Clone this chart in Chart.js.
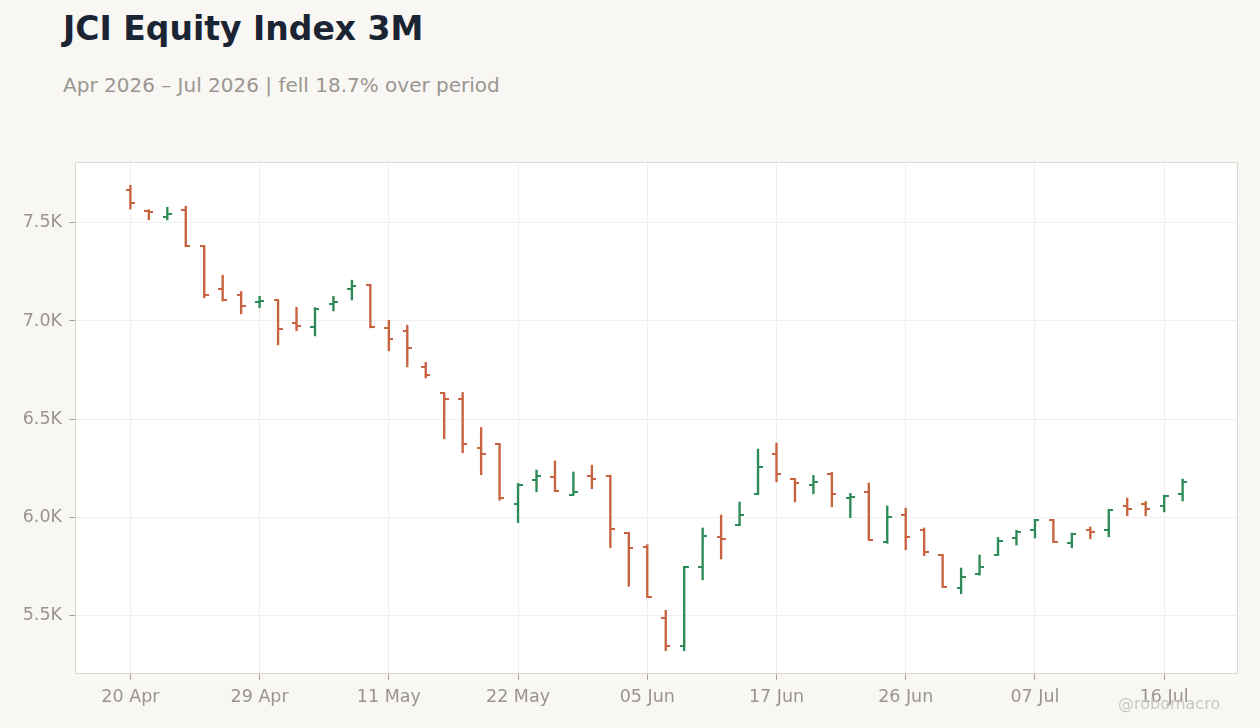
<!DOCTYPE html>
<html>
<head>
<meta charset="utf-8">
<script src="https://cdn.jsdelivr.net/npm/chart.js@4.4.1/dist/chart.umd.min.js"></script>
<style>
  html, body { margin: 0; padding: 0; background: #f8f7f4; }
  body { width: 1260px; height: 728px; position: relative; overflow: hidden; font-family: "DejaVu Sans", sans-serif; }
  #title { position: absolute; left: 63px; top: 12px; font-size: 33px; line-height: 33px; font-weight: bold; color: #1b2433; white-space: nowrap; }
  #subtitle { position: absolute; left: 63px; top: 75px; font-size: 20px; line-height: 20px; color: #9a9690; white-space: nowrap; }
  #mark { position: absolute; left: 1118px; top: 696px; font-size: 16px; line-height: 16px; color: #c9c7c3; white-space: nowrap; z-index: 2; }
  #chart { position: absolute; left: 0; top: 0; }
</style>
</head>
<body>
<div id="title">JCI Equity Index 3M</div>
<div id="subtitle">Apr 2026 – Jul 2026 | fell 18.7% over period</div>
<div id="mark">@robomacro</div>
<canvas id="chart" width="1260" height="728"></canvas>
<script>
const dates = [
  '20 Apr', '21 Apr', '22 Apr', '23 Apr', '24 Apr', '27 Apr', '28 Apr', '29 Apr', '30 Apr', '04 May',
  '05 May', '06 May', '07 May', '08 May', '11 May', '12 May', '13 May', '18 May', '19 May', '20 May',
  '21 May', '22 May', '25 May', '26 May', '28 May', '02 Jun', '03 Jun', '04 Jun', '05 Jun', '08 Jun',
  '09 Jun', '10 Jun', '11 Jun', '12 Jun', '15 Jun', '17 Jun', '18 Jun', '19 Jun', '22 Jun', '23 Jun',
  '24 Jun', '25 Jun', '26 Jun', '29 Jun', '30 Jun', '01 Jul', '02 Jul', '03 Jul', '06 Jul', '07 Jul',
  '08 Jul', '09 Jul', '10 Jul', '13 Jul', '14 Jul', '15 Jul', '16 Jul', '17 Jul'
];
const opens = [
  7667, 7562, 7530, 7565, 7382, 7163, 7131, 7096, 7107, 6989,
  6970, 7087, 7163, 7184, 6965, 6950, 6766, 6634, 6602, 6353,
  6375, 6068, 6191, 6207, 6116, 6212, 6213, 5922, 5849, 5488,
  5345, 5749, 5901, 5962, 6120, 6324, 6195, 6166, 6222, 6100,
  6130, 5876, 6013, 5937, 5807, 5642, 5711, 5808, 5895, 5937,
  5988, 5871, 5937, 5937, 6059, 6069, 6059, 6117
];
const highs = [
  7691, 7567, 7579, 7584, 7384, 7233, 7150, 7126, 7109, 7070,
  7068, 7126, 7208, 7186, 7004, 6979, 6790, 6636, 6636, 6458,
  6377, 6173, 6241, 6287, 6231, 6266, 6215, 5924, 5861, 5527,
  5751, 5946, 6012, 6078, 6348, 6378, 6198, 6214, 6229, 6122,
  6175, 6058, 6047, 5946, 5812, 5742, 5808, 5898, 5934, 5990,
  5990, 5920, 5951, 6041, 6098, 6081, 6113, 6195
];
const lows = [
  7570, 7515, 7515, 7378, 7118, 7102, 7036, 7067, 6878, 6950,
  6924, 7051, 7107, 6965, 6848, 6766, 6710, 6400, 6329, 6217,
  6087, 5973, 6130, 6130, 6114, 6146, 5845, 5649, 5592, 5321,
  5321, 5682, 5788, 5957, 6115, 6181, 6079, 6120, 6054, 5998,
  5882, 5868, 5835, 5805, 5643, 5611, 5706, 5805, 5859, 5895,
  5872, 5845, 5891, 5901, 6008, 6008, 6028, 6084
];
const closes = [
  7600, 7556, 7547, 7381, 7131, 7106, 7077, 7101, 6958, 6975,
  7060, 7097, 7179, 6967, 6907, 6862, 6724, 6602, 6375, 6324,
  6098, 6164, 6212, 6134, 6130, 6196, 5940, 5844, 5594, 5347,
  5749, 5905, 5891, 6013, 6258, 6222, 6176, 6181, 6120, 6105,
  5884, 6003, 5901, 5825, 5645, 5698, 5749, 5881, 5924, 5988,
  5874, 5917, 5927, 6037, 6044, 6044, 6110, 6180
];
const yTicks = [5500, 6000, 6500, 7000, 7500];
const xTickEvery = 7;

const UP = '#2e8b57';
const DOWN = '#c9623f';
const isUp = (i) => closes[i] >= opens[i];

// little canvases used as point styles for the open (left) and close (right) ticks
const makeTick = (color, side) => {
  const c = document.createElement('canvas');
  c.width = 9;
  c.height = 2;
  const g = c.getContext('2d');
  g.fillStyle = color;
  if (side === 'left') g.fillRect(0, 0, 5, 2);
  else g.fillRect(4, 0, 5, 2);
  return c;
};
const tickStyles = {
  openUp: makeTick(UP, 'left'),
  openDown: makeTick(DOWN, 'left'),
  closeUp: makeTick(UP, 'right'),
  closeDown: makeTick(DOWN, 'right')
};

const lo = Math.min(...lows);
const hi = Math.max(...highs);
const pad = (hi - lo) * 0.05;

const frame = {
  id: 'frame',
  beforeDraw(chart) {
    const { ctx, chartArea: a } = chart;
    ctx.save();
    ctx.fillStyle = '#ffffff';
    ctx.fillRect(a.left, a.top, a.right - a.left, a.bottom - a.top);
    ctx.restore();
  },
  beforeDatasetsDraw(chart) {
    const { ctx, chartArea: a } = chart;
    ctx.save();
    ctx.strokeStyle = '#ddd8d0';
    ctx.lineWidth = 1;
    ctx.strokeRect(a.left + 0.5, a.top + 0.5, a.right - a.left - 1, a.bottom - a.top - 1);
    ctx.restore();
  }
};

const tickFont = { family: '"DejaVu Sans", sans-serif', size: 17.5 };

new Chart(document.getElementById('chart'), {
  type: 'bar',
  data: {
    datasets: [
      {
        type: 'bar',
        data: dates.map((d, i) => ({ x: i, y: [lows[i], highs[i]] })),
        backgroundColor: dates.map((d, i) => (isUp(i) ? UP : DOWN)),
        barThickness: 1.7,
        borderWidth: 0
      },
      {
        type: 'scatter',
        data: dates.map((d, i) => ({ x: i, y: opens[i] })),
        pointStyle: (ctx) => (isUp(ctx.dataIndex) ? tickStyles.openUp : tickStyles.openDown),
        pointRadius: 3,
        pointHoverRadius: 3
      },
      {
        type: 'scatter',
        data: dates.map((d, i) => ({ x: i, y: closes[i] })),
        pointStyle: (ctx) => (isUp(ctx.dataIndex) ? tickStyles.closeUp : tickStyles.closeDown),
        pointRadius: 3,
        pointHoverRadius: 3
      }
    ]
  },
  options: {
    responsive: false,
    animation: false,
    layout: { padding: { top: 162, right: 22, left: 0, bottom: 0 } },
    plugins: {
      legend: { display: false },
      tooltip: { enabled: false }
    },
    scales: {
      x: {
        type: 'linear',
        offset: false,
        min: -3,
        max: dates.length + 2,
        afterFit: (scale) => { scale.height = 54; },
        afterBuildTicks: (scale) => {
          scale.ticks = dates.map((d, i) => i).filter((i) => i % xTickEvery === 0).map((v) => ({ value: v }));
        },
        border: { display: false },
        grid: { offset: false, color: '#efefef', tickColor: '#a8a39d', tickLength: 6, drawTicks: true },
        ticks: {
          color: '#99948e',
          font: tickFont,
          padding: 7,
          maxRotation: 0,
          autoSkip: false,
          callback: (v) => dates[v]
        }
      },
      y: {
        min: lo - pad,
        max: hi + pad,
        afterFit: (scale) => { scale.width = 75; },
        afterBuildTicks: (scale) => {
          scale.ticks = yTicks.map((v) => ({ value: v }));
        },
        border: { display: false },
        grid: { color: '#efefef', tickColor: '#a8a39d', tickLength: 6 },
        ticks: {
          color: '#99948e',
          font: tickFont,
          padding: 7,
          callback: (v) => (v / 1000).toFixed(1) + 'K'
        }
      }
    }
  },
  plugins: [frame]
});
</script>
</body>
</html>
